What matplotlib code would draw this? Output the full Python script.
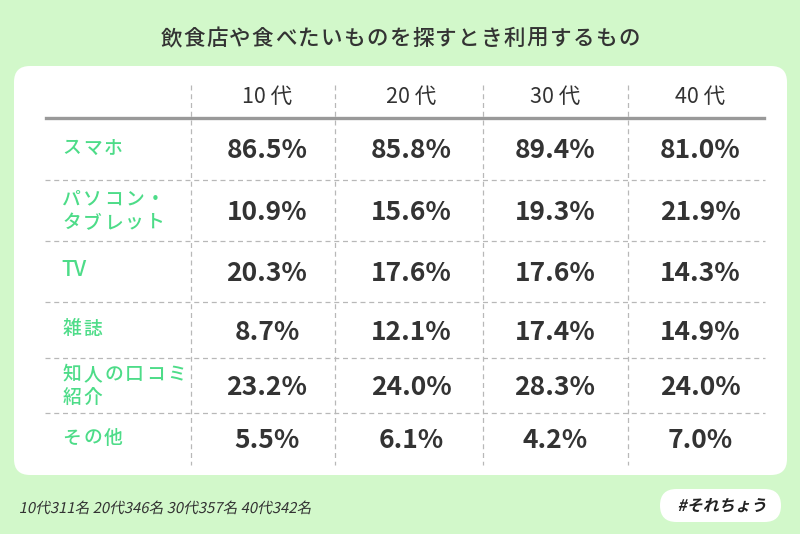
import matplotlib.pyplot as plt
from matplotlib.patches import FancyBboxPatch, PathPatch
from matplotlib.textpath import TextPath
from matplotlib.font_manager import FontProperties
from matplotlib.transforms import Affine2D

plt.rcParams['font.family'] = ['Noto Sans CJK JP', 'DejaVu Sans']

# data
title = '飲食店や食べたいものを探すとき利用するもの'
age_groups = ['10 代', '20 代', '30 代', '40 代']
media = [['スマホ'], ['パソコン・', 'タブレット'], ['TV'], ['雑誌'],
         ['知人の口コミ', '紹介'], ['その他']]
teens = [86.5, 10.9, 20.3, 8.7, 23.2, 5.5]
twenties = [85.8, 15.6, 17.6, 12.1, 24.0, 6.1]
thirties = [89.4, 19.3, 17.6, 17.4, 28.3, 4.2]
forties = [81.0, 21.9, 14.3, 14.9, 24.0, 7.0]
sample_note = '10代311名 20代346名 30代357名 40代342名'
hashtag = '#それちょう'

# layout (pixel coords, y down)
BG = '#d2f8ca'
GREEN = '#4ddc88'
DARK = '#333333'
GRID = '#b8b8b8'
col_lines = [191, 335, 483, 628]
col_centers = [267, 411, 555, 700]
row_edges = [118, 180, 241, 302, 358, 413, 465]

fig = plt.figure(figsize=(8, 5.34), dpi=100)
fig.patch.set_facecolor(BG)
ax = fig.add_axes([0, 0, 1, 1])
ax.set_xlim(0, 800)
ax.set_ylim(534, 0)
ax.axis('off')


def spaced(x0, y, s, pitch, **kw):
    # draw full-width text one glyph at a time to get letter spacing
    for i, ch in enumerate(s):
        ax.text(x0 + pitch * (i + 0.5), y, ch, ha='center', va='center', **kw)


def slanted(x, y, s, size, weight='normal', color=DARK, ha='left'):
    # fake italic: sheared text path, baseline at y
    prop = FontProperties(family='Noto Sans CJK JP', weight=weight)
    tp = TextPath((0, 0), s, size=size, prop=prop)
    ext = tp.get_extents()
    dx = -ext.x0 if ha == 'left' else -(ext.x0 + ext.x1) / 2
    tr = Affine2D().translate(dx, 0).skew_deg(12, 0).scale(1, -1).translate(x, y)
    ax.add_patch(PathPatch(tr.transform_path(tp), fc=color, ec='none'))


# title
spaced(400 - len(title) * 22.9 / 2, 39, title, 22.9, fontsize=15.5,
       fontweight='medium', color=DARK)

# white panel
ax.add_patch(FancyBboxPatch((14, 66), 773, 409, boxstyle='round,pad=0,rounding_size=16',
                            fc='white', ec='none'))

# grid
for x in col_lines:
    ax.plot([x, x], [85, 465], color=GRID, lw=0.9, ls=(0, (4, 3)))
for y in row_edges[1:-1]:
    ax.plot([45, 765], [y, y], color=GRID, lw=0.9, ls=(0, (4, 3)))
ax.plot([46, 764], [row_edges[0], row_edges[0]], color='#999999', lw=2.4)

# header
for x, g in zip(col_centers, age_groups):
    ax.text(x, 97, g, ha='center', va='center', fontsize=15.5, color=DARK)

# rows
columns = [teens, twenties, thirties, forties]
for i, label in enumerate(media):
    yc = (row_edges[i] + row_edges[i + 1]) / 2
    if len(label) == 1:
        ys = [yc - 1]
    else:
        ys = [yc - 11, yc + 12]
    for line, ly in zip(label, ys):
        if line.isascii():
            ax.text(61, ly, line, ha='left', va='center', fontsize=15,
                    fontweight='medium', color=GREEN)
        else:
            spaced(61, ly, line, 21, fontsize=13.5, fontweight='medium', color=GREEN)
    for x, col in zip(col_centers, columns):
        ax.text(x, yc + 2, f'{col[i]:.1f}%', ha='center', va='center',
                fontsize=19, fontweight='bold', color=DARK)

# footer
slanted(20, 513, sample_note, 14.8)
ax.add_patch(FancyBboxPatch((660, 489), 121, 33, boxstyle='round,pad=0,rounding_size=16.5',
                            fc='white', ec='none'))
slanted(721, 511, hashtag, 16, weight='bold', color='#222222', ha='center')

fig.savefig('out.png', dpi=100, facecolor=BG)
